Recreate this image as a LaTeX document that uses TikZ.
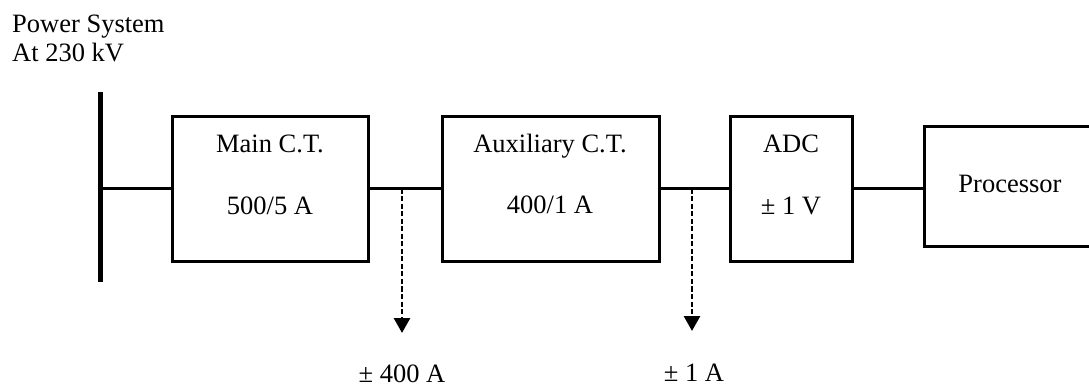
\documentclass[tikz,border=0pt]{standalone}
\usepackage{fontspec}
\setmainfont{Liberation Serif}
\usetikzlibrary{arrows.meta}
\tikzset{
  blk/.style={draw, line width=3pt, inner sep=0pt},
  wire/.style={line width=3pt},
  tapline/.style={line width=2.8pt, dash pattern=on 5pt off 2.5pt, -{Triangle[length=15pt,width=16pt]}},
  lbl/.style={font=\fontsize{26.5}{30}\selectfont, inner sep=0pt, anchor=base},
}
\begin{document}
\begin{tikzpicture}[x=1pt,y=-1pt]
\useasboundingbox (0,0) rectangle (1089,387);
% title
\node[lbl, anchor=base west] (t1) at (12,33) {Power System};
\node[lbl, anchor=base west] (t2) at (12,62) {At 230 kV};
% bus bar
\coordinate (bustop) at (100,92);
\coordinate (busbot) at (100,282);
\coordinate (busmid) at (100,189);
\draw[line width=5pt] (bustop) -- (busbot);
% blocks
\node[blk, minimum width=196pt, minimum height=145pt] (main) at (270,189) {};
\node[blk, minimum width=217pt, minimum height=145pt] (aux) at (550.5,189) {};
\node[blk, minimum width=122pt, minimum height=145pt] (adc) at (791,189) {};
\node[blk, minimum width=170pt, minimum height=120pt] (proc) at (1009,187) {};
% texts
\node[lbl] (m1) at (270,153) {Main C.T.};
\node[lbl] (m2) at (270,215) {500/5 A};
\node[lbl] (a1) at (550,153) {Auxiliary C.T.};
\node[lbl] (a2) at (550,214) {400/1 A};
\node[lbl] (d1) at (791,153) {ADC};
\node[lbl] (d2) at (791,215) {± 1 V};
\node[lbl] (p1) at (1010,193) {Processor};
% connectors
\draw[wire] (busmid) -- (main.west);
\draw[wire] (main.east) -- (aux.west);
\draw[wire] (aux.east) -- (adc.west);
\draw[wire] (adc.east) -- (adc.east -| proc.west);
% taps
\coordinate (tap1) at (402,189);
\coordinate (tip1) at (402,333);
\coordinate (tap2) at (692,189);
\coordinate (tip2) at (692,331);
\draw[tapline] (tap1) -- (tip1);
\draw[tapline] (tap2) -- (tip2);
\node[lbl] (v1) at (402,382) {± 400 A};
\node[lbl] (v2) at (694,381) {± 1 A};
\end{tikzpicture}
\end{document}
